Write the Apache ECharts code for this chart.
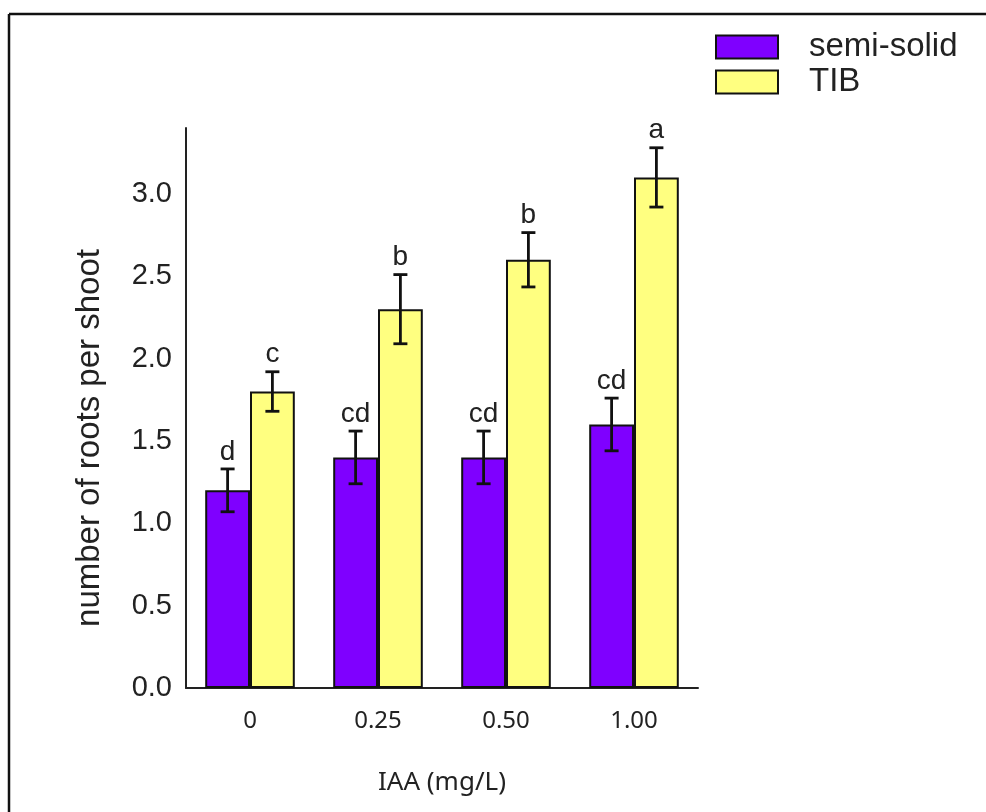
<!DOCTYPE html>
<html>
<head>
<meta charset="utf-8">
<script src="https://cdn.jsdelivr.net/npm/echarts@6/dist/echarts.min.js"></script>
<style>
html,body{margin:0;padding:0;background:#fff;}
#chart{width:986px;height:812px;}
</style>
</head>
<body>
<div id="chart"></div>
<script>
const categories = ['0', '0.25', '0.50', '1.00'];
const seriesNames = ['semi-solid', 'TIB'];
const semiSolid = [1.2, 1.4, 1.4, 1.6];
const tib = [1.8, 2.3, 2.6, 3.1];
const semiSolidErr = [0.13, 0.16, 0.16, 0.16];
const tibErr = [0.12, 0.21, 0.165, 0.18];
const semiSolidLetters = ['d', 'cd', 'cd', 'cd'];
const tibLetters = ['c', 'b', 'b', 'a'];
const yTicks = [0, 0.5, 1.0, 1.5, 2.0, 2.5, 3.0];

const chart = echarts.init(document.getElementById('chart'), null, {renderer: 'canvas'});

const BAR_FRAC = 0.35;
const lettersBySeries = [semiSolidLetters, tibLetters];
function errData(vals, errs, sIdx) {
  return vals.map((v, i) => [i, v, errs[i], sIdx]);
}
function renderErr(params, api) {
  const cat = api.value(0), v = api.value(1), e = api.value(2);
  const sIdx = api.value(3);
  const letter = lettersBySeries[sIdx][params.dataIndex];
  const w = api.size([1, 0])[0];
  const barW = w * BAR_FRAC;
  const off = sIdx === 0 ? -barW / 2 : barW / 2;
  const c = api.coord([cat, v]);
  const cx = c[0] + off;
  const top = api.coord([cat, v + e])[1];
  const bot = api.coord([cat, v - e])[1];
  const cap = 7;
  const st = {stroke: '#111', lineWidth: 2.8};
  return {
    type: 'group',
    children: [
      {type: 'line', shape: {x1: cx, y1: top, x2: cx, y2: bot}, style: st},
      {type: 'line', shape: {x1: cx - cap, y1: top, x2: cx + cap, y2: top}, style: st},
      {type: 'line', shape: {x1: cx - cap, y1: bot, x2: cx + cap, y2: bot}, style: st},
      {type: 'text', x: cx, y: top - 3, style: {text: letter, align: 'center', verticalAlign: 'bottom', fontFamily: 'Liberation Sans', fontSize: 28, fill: '#222'}}
    ]
  };
}

const option = {
  animation: false,
  backgroundColor: '#fff',
  grid: {left: 186, right: 288, top: 128, bottom: 124, containLabel: false},
  legend: {
    orient: 'vertical', left: 715, top: 26, itemWidth: 62, itemHeight: 23, itemGap: -7,
    padding: 0, data: seriesNames, icon: 'rect',
    textStyle: {fontFamily: 'Liberation Sans', fontSize: 33, lineHeight: 34, color: '#222', padding: [8, 0, 0, 26]}
  },
  xAxis: {
    type: 'category', data: categories,
    axisLine: {lineStyle: {color: '#222', width: 2}},
    axisTick: {show: false},
    axisLabel: {fontFamily: 'Noto Sans', fontSize: 24, color: '#222', margin: 21},
    name: 'IAA (mg/L)', nameLocation: 'middle', nameGap: 82,
    nameTextStyle: {fontFamily: 'Noto Sans', fontSize: 26, color: '#222'}
  },
  yAxis: {
    type: 'value', min: 0, max: 3.4, interval: 0.5,
    axisLine: {show: true, lineStyle: {color: '#222', width: 2}},
    axisTick: {show: false},
    splitLine: {show: false},
    axisLabel: {fontFamily: 'Liberation Sans', fontSize: 29, color: '#222', margin: 14, showMaxLabel: false,
      formatter: v => yTicks.indexOf(v) >= 0 ? v.toFixed(1) : ''},
    name: 'number of roots per shoot', nameLocation: 'middle', nameGap: 80,
    nameTextStyle: {fontFamily: 'Liberation Sans', fontSize: 33, color: '#222', padding: [0, 60, 0, 0]}
  },
  series: [
    {name: seriesNames[0], type: 'bar', data: semiSolid, barWidth: (BAR_FRAC * 100) + '%', barGap: '0%',
      itemStyle: {color: '#7F00FF', borderColor: '#111', borderWidth: 2}},
    {name: seriesNames[1], type: 'bar', data: tib, barWidth: (BAR_FRAC * 100) + '%', barGap: '0%',
      itemStyle: {color: '#FFFF80', borderColor: '#111', borderWidth: 2}},
    {type: 'custom', renderItem: renderErr, data: errData(semiSolid, semiSolidErr, 0),
      encode: {x: 0, y: 1}, z: 5, silent: true},
    {type: 'custom', renderItem: renderErr, data: errData(tib, tibErr, 1),
      encode: {x: 0, y: 1}, z: 5, silent: true}
  ],
  graphic: [
    {type: 'line', shape: {x1: 9, y1: 14, x2: 986, y2: 14}, style: {stroke: '#111', lineWidth: 2.5}},
    {type: 'line', shape: {x1: 9, y1: 14, x2: 9, y2: 812}, style: {stroke: '#111', lineWidth: 2.5}}
  ]
};
chart.setOption(option);
</script>
</body>
</html>
